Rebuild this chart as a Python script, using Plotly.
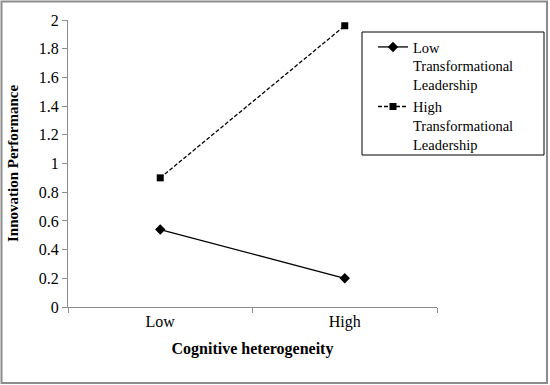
import plotly.graph_objects as go

categories = ["Low", "High"]
low_tl = [0.54, 0.20]
high_tl = [0.90, 1.96]
y_ticks = [0, 0.2, 0.4, 0.6, 0.8, 1, 1.2, 1.4, 1.6, 1.8, 2]

FONT = "Liberation Serif"
L, R, T, B = 68, 113, 20, 78
W, H = 550, 385
pw = W - L - R
ph = H - T - B

fig = go.Figure()
fig.add_trace(go.Scatter(
    x=categories, y=low_tl, mode="lines+markers",
    name="Low<br>Transformational<br>Leadership",
    line=dict(color="black", width=1.3),
    marker=dict(symbol="diamond", size=8, color="black"),
))
fig.add_trace(go.Scatter(
    x=categories, y=high_tl, mode="lines+markers",
    name="High<br>Transformational<br>Leadership",
    line=dict(color="black", width=1.3, dash="4px,2px"),
    marker=dict(symbol="square", size=7, color="black"),
))

def px_x(p):
    return (p - L) / pw

def px_y(p):
    return (H - B - p) / ph

# outer chart border
fig.add_shape(type="rect", xref="paper", yref="paper",
              x0=px_x(1.5), x1=px_x(547), y0=px_y(383), y1=px_y(1.5),
              line=dict(color="#8c8c8c", width=2), fillcolor="rgba(0,0,0,0)")
# legend frame
fig.add_shape(type="rect", xref="paper", yref="paper",
              x0=px_x(362), x1=px_x(544), y0=px_y(155), y1=px_y(32),
              line=dict(color="black", width=1), fillcolor="white", layer="below")

fig.update_layout(
    width=W, height=H,
    margin=dict(l=L, r=R, t=T, b=B, autoexpand=False),
    paper_bgcolor="white", plot_bgcolor="rgba(0,0,0,0)",
    font=dict(family=FONT, size=16, color="black"),
    showlegend=True,
    legend=dict(
        x=px_x(373), y=px_y(31), xanchor="left", yanchor="top",
        borderwidth=0, bgcolor="rgba(0,0,0,0)",
        font=dict(family=FONT, size=14.5, color="black"),
        tracegroupgap=1, valign="top", itemwidth=30,
    ),
    xaxis=dict(
        type="category", tickson="boundaries", ticks="outside", ticklen=5,
        tickcolor="#8c8c8c", showline=True, linecolor="#8c8c8c", linewidth=1,
        showgrid=False, zeroline=False, range=[-0.5, 1.5], automargin=False,
        tickfont=dict(family=FONT, size=16),
        title=dict(text="<b>Cognitive heterogeneity</b>", font=dict(family=FONT, size=16), standoff=12),
    ),
    yaxis=dict(
        range=[0, 2], tickvals=y_ticks, ticktext=[f"{v:g}" for v in y_ticks],
        ticks="outside", ticklen=5, tickcolor="#8c8c8c",
        showline=True, linecolor="#8c8c8c", linewidth=1,
        showgrid=False, zeroline=False, automargin=False,
        tickfont=dict(family=FONT, size=16),
        title=dict(text="<b>Innovation Performance</b>", font=dict(family=FONT, size=15), standoff=16),
    ),
)

fig.write_html("out.html", config={"displayModeBar": False},
               post_script="document.body.style.margin='0';")
